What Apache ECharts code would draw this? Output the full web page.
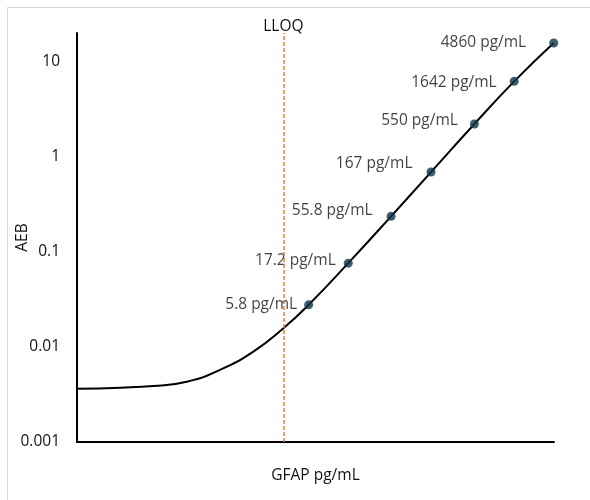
<!DOCTYPE html>
<html>
<head>
<meta charset="utf-8">
<script src="https://cdn.jsdelivr.net/npm/echarts@6/dist/echarts.min.js"></script>
<style>html,body{margin:0;padding:0;background:#fff;}#c{width:590px;height:500px;}</style>
</head>
<body>
<div id="c"></div>
<script>
// ---- data ----
const curveGFAP = [0.01, 0.033, 0.081, 0.204, 0.508, 1.27, 2.9];
const curveAEB  = [0.00364, 0.00373, 0.00388, 0.00431, 0.00573, 0.00893, 0.0157];
const calGFAP   = [5.8, 17.2, 55.8, 167, 550, 1642, 4860];
const calAEB    = [0.0277, 0.076, 0.236, 0.69, 2.21, 6.2, 15.7];
const calLabels = ['5.8 pg/mL', '17.2 pg/mL', '55.8 pg/mL', '167 pg/mL', '550 pg/mL', '1642 pg/mL', '4860 pg/mL'];
const lloq = 2.9;
const yTicks = [0.001, 0.01, 0.1, 1, 10];

// ---- layout (label nudges, not data) ----
const labelGap = [7, 8, 14, 14, 12, 13, 23];
const labelDy  = [0, -3, -6, -8, -3, 1, 0];

const FONT = 'Open Sans';
const TXT = '#111';
const chart = echarts.init(document.getElementById('c'));

const lineData = curveGFAP.map((x, i) => [x, curveAEB[i]])
  .concat(calGFAP.map((x, i) => [x, calAEB[i]]));
const pointData = calGFAP.map((x, i) => ({
  value: [x, calAEB[i]],
  label: { distance: labelGap[i], offset: [0, labelDy[i]] }
}));

chart.setOption({
  animation: false,
  graphic: [{
    type: 'rect', silent: true,
    shape: { x: 7.5, y: 7.5, width: 700, height: 700 },
    style: { fill: 'none', stroke: '#d6d6d6', lineWidth: 1 }
  }],
  grid: { left: 77, right: 36, top: 33, bottom: 58, containLabel: false, outerBoundsMode: 'none' },
  xAxis: {
    type: 'log', min: 0.01, max: 4900,
    name: 'GFAP pg/mL', nameLocation: 'middle', nameGap: 26, nameMoveOverlap: false,
    nameTextStyle: { fontFamily: FONT, fontSize: 15.5, color: TXT },
    axisLine: { show: true, lineStyle: { color: '#000', width: 2 } },
    axisTick: { show: false }, axisLabel: { show: false }, splitLine: { show: false }
  },
  yAxis: {
    type: 'log', min: 0.001, max: 20,
    name: 'AEB', nameLocation: 'middle', nameGap: 46, nameMoveOverlap: false,
    nameTextStyle: { fontFamily: FONT, fontSize: 15.5, color: TXT },
    axisLine: { show: true, lineStyle: { color: '#000', width: 2 } },
    axisTick: { show: false }, splitLine: { show: false },
    axisLabel: {
      margin: 17, fontFamily: FONT, fontSize: 15.5, color: TXT,
      showMaxLabel: false,
      formatter: v => {
        const t = yTicks.find(k => Math.abs(Math.log10(v) - Math.log10(k)) < 1e-6);
        return t === undefined ? '' : String(t);
      }
    }
  },
  series: [{
    type: 'line', data: lineData, smooth: 0.5, showSymbol: false,
    lineStyle: { color: '#000', width: 2 }, z: 3,
    markLine: {
      silent: true, symbol: 'none',
      lineStyle: { color: '#ED7D31', type: [4, 2], width: 1.5 },
      label: { show: true, position: 'end', formatter: 'LLOQ', distance: 3, offset: [0, 5],
               fontFamily: FONT, fontSize: 15.5, color: TXT },
      data: [{ xAxis: lloq }]
    }
  }, {
    type: 'scatter', data: pointData, symbol: 'circle', symbolSize: 9, z: 4,
    itemStyle: { color: '#0d3349' },
    label: {
      show: true, position: 'left',
      formatter: p => calLabels[p.dataIndex],
      fontFamily: FONT, fontSize: 15.5, color: TXT
    }
  }]
});
</script>
</body>
</html>
